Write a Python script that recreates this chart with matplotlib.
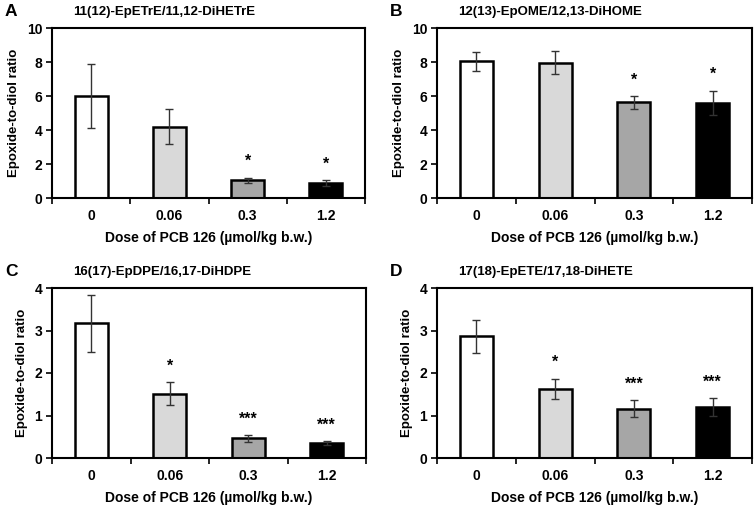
import numpy as np
import matplotlib.pyplot as plt
from matplotlib.ticker import FixedLocator

plt.rcParams['font.family'] = ['Liberation Sans', 'DejaVu Sans']
plt.rcParams['font.weight'] = 'bold'

doses = ["0", "0.06", "0.3", "1.2"]
bar_colors = ["white", "#d9d9d9", "#a6a6a6", "black"]

titles = ["11(12)-EpETrE/11,12-DiHETrE", "12(13)-EpOME/12,13-DiHOME",
          "16(17)-EpDPE/16,17-DiHDPE", "17(18)-EpETE/17,18-DiHETE"]
letters = ["A", "B", "C", "D"]

mean_a = [6.0, 4.2, 1.05, 0.9]
err_a = [1.9, 1.03, 0.15, 0.17]
star_a = ["", "", "*", "*"]

mean_b = [8.03, 7.97, 5.62, 5.6]
err_b = [0.58, 0.68, 0.4, 0.72]
star_b = ["", "", "*", "*"]

mean_c = [3.17, 1.51, 0.46, 0.35]
err_c = [0.67, 0.27, 0.09, 0.04]
star_c = ["", "*", "***", "***"]

mean_d = [2.86, 1.63, 1.16, 1.21]
err_d = [0.39, 0.24, 0.2, 0.21]
star_d = ["", "*", "***", "***"]

ymax = [10, 10, 4, 4]
ystep = [2, 2, 1, 1]

W, H = 755, 507
fig = plt.figure(figsize=(W / 100, H / 100), dpi=100)

# panel boxes in pixels: left, top, right, bottom
boxes = [(52, 28, 365, 198), (437, 28, 752, 198),
         (52, 288, 366, 458), (437, 288, 752, 458)]

panels = [(mean_a, err_a, star_a), (mean_b, err_b, star_b),
          (mean_c, err_c, star_c), (mean_d, err_d, star_d)]

for i, (means, errs, stars) in enumerate(panels):
    l, t, r, b = boxes[i]
    ax = fig.add_axes([l / W, 1 - b / H, (r - l) / W, (b - t) / H])
    x = np.arange(len(doses))
    ax.bar(x, means, width=0.42, color=bar_colors, edgecolor="black",
           linewidth=1.8, zorder=2)
    ax.errorbar(x, means, yerr=errs, fmt="none", ecolor="#333333",
                elinewidth=1, capsize=3, capthick=1, zorder=3)
    for xi, m, e, s in zip(x, means, errs, stars):
        if s:
            ax.annotate(s, (xi, m + e), xytext=(0, 6), textcoords="offset points",
                        ha="center", va="bottom", fontsize=11.5, fontweight="bold")
    ax.set_xlim(-0.5, 3.5)
    ax.set_ylim(0, ymax[i])
    ax.set_yticks(np.arange(0, ymax[i] + 0.1, ystep[i]))
    ax.set_xticks(x)
    ax.set_xticklabels(doses)
    ax.xaxis.set_minor_locator(FixedLocator([-0.5, 0.5, 1.5, 2.5, 3.5]))
    ax.tick_params(axis="x", which="major", length=0, pad=8, labelsize=10)
    ax.tick_params(axis="x", which="minor", length=4, width=1.2, direction="out")
    ax.tick_params(axis="y", length=4, width=1.2, direction="out", labelsize=10, pad=3)
    for sp in ax.spines.values():
        sp.set_linewidth(1.5)
    ax.set_ylabel("Epoxide-to-diol ratio", fontsize=9.5, fontweight="bold", labelpad=5)
    ax.set_xlabel("Dose of PCB 126 (\u00b5mol/kg b.w.)", fontsize=10,
                  fontweight="bold", labelpad=6)
    fig.text((l - 47) / W, 1 - (t - 16) / H, letters[i], fontsize=12.5,
             fontweight="bold", ha="left", va="center")
    fig.text((l + 21) / W, 1 - (t - 16) / H, titles[i], fontsize=9.5,
             fontweight="bold", ha="left", va="center")

fig.savefig("out.png", dpi=100)
